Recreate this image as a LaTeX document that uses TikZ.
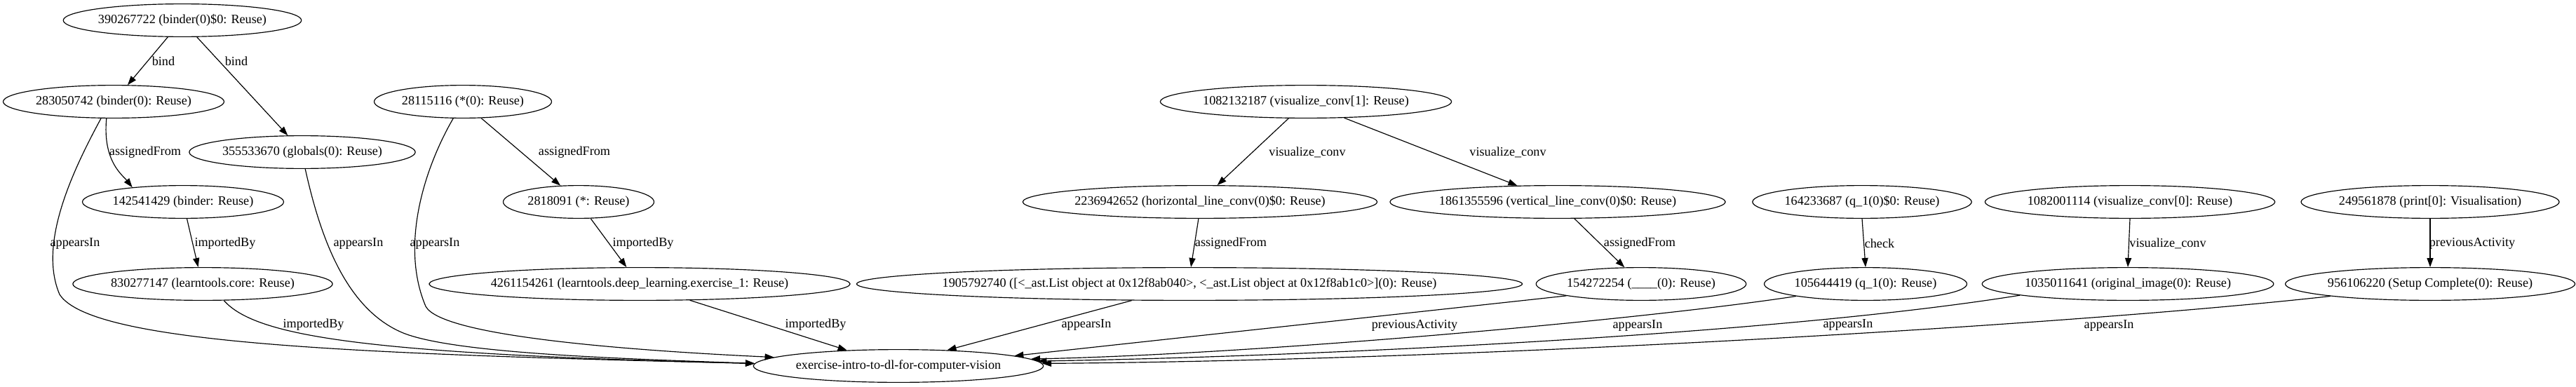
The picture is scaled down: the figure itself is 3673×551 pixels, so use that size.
\documentclass[tikz,border=0pt]{standalone}
\usepackage{fontspec}
\setmainfont{Liberation Serif}
\usetikzlibrary{shapes.geometric,arrows.meta}
\begin{document}
\begin{tikzpicture}[x=0.76923pt,y=-0.76923pt,
  ell/.style={ellipse,draw,line width=0.9pt,inner sep=0pt,minimum height=36pt,font=\fontsize{14}{16}\selectfont},
  wd/.style={minimum width=#1*0.76923pt},
  lbl/.style={inner sep=0pt,font=\fontsize{14}{16}\selectfont},
  arr/.style={draw,line width=0.9pt,-{Triangle[length=10pt,width=7pt]}}]
\useasboundingbox (0,0) rectangle (3673,551);
% nodes
\node[ell,wd=336] (n390) at (260,29) {390267722 (binder(0)\$0: Reuse)};
\node[ell,wd=315] (n283) at (162,145) {283050742 (binder(0): Reuse)};
\node[ell,wd=320] (n355) at (431,217) {355533670 (globals(0): Reuse)};
\node[ell,wd=287] (n142) at (261,288) {142541429 (binder: Reuse)};
\node[ell,wd=366] (n830) at (289,405) {830277147 (learntools.core: Reuse)};
\node[ell,wd=253] (n281) at (660,145) {28115116 (*(0): Reuse)};
\node[ell,wd=215] (n2818) at (825,288) {2818091 (*: Reuse)};
\node[ell,wd=574] (n4261) at (912,405) {4261154261 (learntools.deep\_learning.exercise\_1: Reuse)};
\node[ell,wd=409] (tgt) at (1281,522) {exercise-intro-to-dl-for-computer-vision};
\node[ell,wd=406] (n1082a) at (1862,145) {1082132187 (visualize\_conv[1]: Reuse)};
\node[ell,wd=487] (n2236) at (1711,288) {2236942652 (horizontal\_line\_conv(0)\$0: Reuse)};
\node[ell,wd=462] (n1861) at (2221,288) {1861355596 (vertical\_line\_conv(0)\$0: Reuse)};
\node[ell,wd=949,inner xsep=-30pt] (n1905) at (1696,405) {1905792740 ([<\_ast.List object at 0x12f8ab040>, <\_ast.List object at 0x12f8ab1c0>](0): Reuse)};
\node[ell,wd=298] (n154) at (2340,405) {154272254 (\_\_\_\_(0): Reuse)};
\node[ell,wd=311] (n164) at (2655,288) {164233687 (q\_1(0)\$0: Reuse)};
\node[ell,wd=289] (n105) at (2660,405) {105644419 (q\_1(0): Reuse)};
\node[ell,wd=405] (n1082b) at (3037,288) {1082001114 (visualize\_conv[0]: Reuse)};
\node[ell,wd=408] (n1035) at (3034,405) {1035011641 (original\_image(0): Reuse)};
\node[ell,wd=363] (n249) at (3465,288) {249561878 (print[0]: Visualisation)};
\node[ell,wd=405] (n956) at (3465,405) {956106220 (Setup Complete(0): Reuse)};
% edges
\draw[arr] (n390.229) -- (n283.50);
\draw[arr] (n390.311) -- (n355.131);
\draw[arr] (n283.247) .. controls (146,230) and (175,250) .. (n142.164);
\draw[arr] (n283.233) .. controls (100,250) and (55,350) .. (85,420) .. controls (130,490) and (500,505) .. (tgt.179);
\draw[arr] (n142.283) -- (n830.105);
\draw[arr] (n830.322) .. controls (365,480) and (520,505) .. (tgt.179);
\draw[arr] (n355.280) .. controls (455,330) and (490,440) .. (575,475) .. controls (650,505) and (900,512) .. (tgt.179);
\draw[arr] (n281.318) -- (n2818.138);
\draw[arr] (n281.240) .. controls (605,240) and (570,350) .. (607,437) .. controls (630,480) and (900,500) .. (tgt.176);
\draw[arr] (n2818.306) -- (n4261.128);
\draw[arr] (n4261.342) -- (tgt.163);
\draw[arr] (n1082a.224) -- (n2236.44);
\draw[arr] (n1082a.337) -- (n1861.158);
\draw[arr] (n2236.265) -- (n1905.85);
\draw[arr] (n1905.196) -- (tgt.18);
\draw[arr] (n1861.315) -- (n154.135);
\draw[arr] (n154.189) -- (tgt.5);
\draw[arr] (n164.south) -- (n105.north);
\draw[arr] (n105.190) .. controls (2350,455) and (1800,505) .. (tgt.3);
\draw[arr] (n1082b.south) -- (n1035.north);
\draw[arr] (n1035.186) .. controls (2500,482) and (1800,510) .. (tgt.2);
\draw[arr] (n249.south) -- (n956.north);
\draw[arr] (n956.187) .. controls (2950,464) and (2100,514) .. (tgt.1);
% labels
\node[lbl] (l1) at (233,87) {bind};
\node[lbl] (l2) at (337,87) {bind};
\node[lbl] (l3) at (207,217) {assignedFrom};
\node[lbl] (l4) at (107,347) {appearsIn};
\node[lbl] (l5) at (321,347) {importedBy};
\node[lbl] (l6) at (447,463) {importedBy};
\node[lbl] (l7) at (511,347) {appearsIn};
\node[lbl] (l8) at (819,217) {assignedFrom};
\node[lbl] (l9) at (620,347) {appearsIn};
\node[lbl] (l10) at (917,347) {importedBy};
\node[lbl] (l11) at (1163,463) {importedBy};
\node[lbl] (l12) at (1864,217) {visualize\_conv};
\node[lbl] (l13) at (2150,217) {visualize\_conv};
\node[lbl] (l14) at (1755,347) {assignedFrom};
\node[lbl] (l15) at (1549,463) {appearsIn};
\node[lbl] (l16) at (2338,347) {assignedFrom};
\node[lbl] (l17) at (2017,464) {previousActivity};
\node[lbl] (l18) at (2680,347) {check};
\node[lbl] (l19) at (2335,464) {appearsIn};
\node[lbl] (l20) at (3091,347) {visualize\_conv};
\node[lbl] (l21) at (2635,463) {appearsIn};
\node[lbl] (l22) at (3525,347) {previousActivity};
\node[lbl] (l23) at (3007,464) {appearsIn};
\end{tikzpicture}
\end{document}
